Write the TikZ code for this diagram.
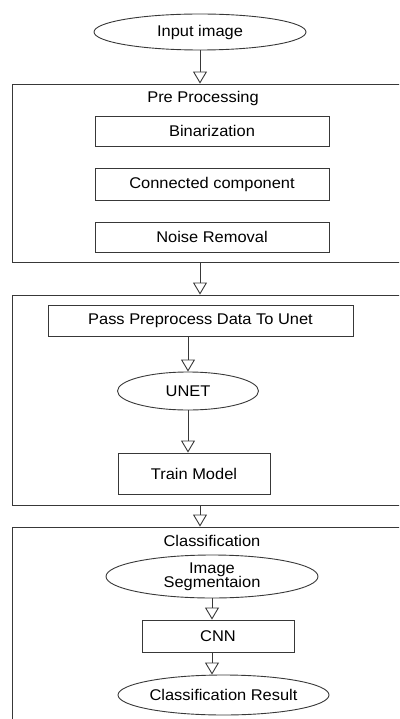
\documentclass[tikz,border=0pt]{standalone}
\usepackage{fontspec}
\setmainfont{Liberation Sans}[FakeStretch=1.06]
\usetikzlibrary{arrows.meta,shapes.geometric}

\tikzset{
  line/.style={draw=black!78, line width=0.9pt},
  flow/.style={line, -{Triangle[open,length=12pt,width=14pt,fill=white]}},
  panel/.style={line, rectangle, inner sep=0pt, minimum width=440pt},
  stepbox/.style={line, rectangle, inner sep=0pt, align=center},
  oval/.style={line, ellipse, inner sep=0pt, align=center},
  title/.style={inner sep=0pt}
}

\begin{document}
\begin{tikzpicture}[x=1pt,y=-1pt,font=\fontsize{15.5}{17}\selectfont]
\useasboundingbox (0,0) rectangle (399,719);
\clip (0,0) rectangle (399,719);

% input
\node[oval, minimum width=212pt, minimum height=36pt] (inp) at (200,32) {Input image};

% pre processing stage
\node[panel, minimum height=178pt] (pre) at (232,173) {};
\node[title] (pretitle) at (203,98) {Pre Processing};
\node[stepbox, minimum width=234pt, minimum height=30pt] (bin) at (212,131) {Binarization};
\node[stepbox, minimum width=234pt, minimum height=32pt] (conn) at (212,184) {Connected component};
\node[stepbox, minimum width=234pt, minimum height=30pt] (noise) at (212,237) {Noise Removal};

% unet stage
\node[panel, minimum height=210pt] (unetbox) at (232,400) {};
\node[stepbox, minimum width=305pt, minimum height=31pt] (pass) at (200.5,320.5) {Pass Preprocess Data To Unet};
\node[oval, minimum width=141pt, minimum height=38pt] (unet) at (188,391) {UNET};
\node[stepbox, minimum width=152pt, minimum height=41pt] (train) at (194,473.5) {Train Model};

% classification stage
\node[panel, minimum height=206pt] (clsbox) at (232,630) {};
\node[title] (clstitle) at (212,541) {Classification};
\node[oval, minimum width=212pt, minimum height=43pt] (seg) at (212,576.5) {Image\\[-3pt]Segmentaion};
\node[stepbox, minimum width=152pt, minimum height=32pt] (cnn) at (218,636) {CNN};
\node[oval, minimum width=211pt, minimum height=40pt] (res) at (223.5,695) {Classification Result};

% connectors
\draw[flow] (inp.south) -- (inp.south |- pre.north);
\draw[flow] (inp |- pre.south) -- (inp |- unetbox.north);
\draw[flow] (unet |- pass.south) -- (unet.north);
\draw[flow] (unet.south) -- (unet.south |- train.north);
\draw[flow] (inp |- unetbox.south) -- (inp |- clsbox.north);
\draw[flow] (seg.south) -- (seg.south |- cnn.north);
\draw[flow] (seg.south |- cnn.south) -- (seg.south |- res.north);
\end{tikzpicture}
\end{document}
